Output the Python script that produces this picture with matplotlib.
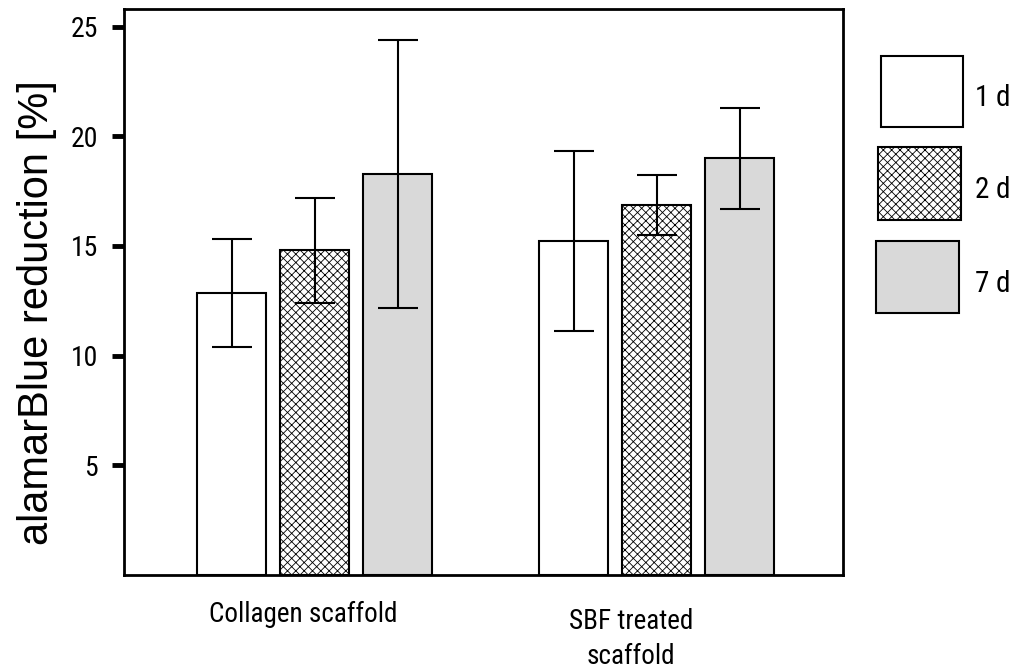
#!/usr/bin/env python3
"""
alamarBlue reduction of collagen vs. SBF treated scaffolds after 1, 2 and 7 days.
"""

import matplotlib
matplotlib.use('Agg')
import matplotlib.pyplot as plt
import numpy as np
from matplotlib import font_manager
from matplotlib.patches import Rectangle

# Data
scaffolds = ['Collagen scaffold', 'SBF treated\nscaffold']
days = ['1 d', '2 d', '7 d']
mean_1d = [12.85, 15.22]
mean_2d = [14.80, 16.86]
mean_7d = [18.27, 19.00]
sd_1d = [2.45, 4.10]
sd_2d = [2.40, 1.37]
sd_7d = [6.10, 2.30]
y_ticks = [5, 10, 15, 20, 25]

plt.rcParams['font.family'] = ['Liberation Sans', 'DejaVu Sans']
plt.rcParams['hatch.linewidth'] = 0.6
plt.rcParams['hatch.color'] = '#333333'

# the original uses a narrow Helvetica; use a narrow face if one is around
installed = {f.name for f in font_manager.fontManager.ttflist}
NARROW = None
for name in ['Liberation Sans Narrow', 'Roboto Condensed', 'Open Sans Condensed']:
    if name in installed:
        NARROW = name
        break

if NARROW:
    text_font = [NARROW, 'DejaVu Sans']
    tick_size, label_size, legend_size, spacing = 20, 19.5, 21, 1.4
else:
    text_font = ['Liberation Sans', 'DejaVu Sans']
    tick_size, label_size, legend_size, spacing = 18, 17.5, 19, 1.7


def draw_legend(fig, styles):
    """Big boxes with labels to the right of the axes (pixel positions)."""
    W, H = 1013.0, 672.0
    boxes = [(881, 56, 82, 71), (878, 147, 83, 73), (876, 241, 83, 72)]
    for (x0, y0, w, h), st, lab in zip(boxes, styles, days):
        fig.add_artist(Rectangle((x0 / W, 1 - (y0 + h) / H), w / W, h / H,
                                 transform=fig.transFigure,
                                 facecolor=st['facecolor'], hatch=st['hatch'],
                                 edgecolor='black', linewidth=1.5))
        fig.text(975 / W, 1 - (y0 + h / 2 + 7) / H, lab, ha='left',
                 va='center', fontsize=legend_size, family=text_font)


def main():
    fig = plt.figure(figsize=(10.13, 6.72), dpi=100)
    ax = fig.add_axes([0.1224, 0.1443, 0.7098, 0.8423])

    means = [mean_1d, mean_2d, mean_7d]
    sds = [sd_1d, sd_2d, sd_7d]
    styles = [
        dict(facecolor='white', hatch=None),
        dict(facecolor='white', hatch='xxxx'),
        dict(facecolor='#d9d9d9', hatch=None),
    ]

    x = np.arange(len(scaffolds))
    width = 0.202
    offset = 0.2427

    for i, (m, s, st) in enumerate(zip(means, sds, styles)):
        pos = x + (i - 1) * offset
        ax.bar(pos, m, width, color=st['facecolor'], hatch=st['hatch'],
               edgecolor='black', linewidth=1.5, zorder=2)
        ax.errorbar(pos, m, yerr=s, fmt='none', ecolor='black',
                    elinewidth=1.5, capsize=14.4, capthick=1.5, zorder=3)

    ax.set_xlim(-0.557, 1.545)
    ax.set_ylim(0, 25.8)
    ax.set_yticks(y_ticks)
    ax.set_yticklabels([str(t) for t in y_ticks], fontsize=tick_size,
                       family=text_font)
    ax.tick_params(axis='y', direction='out', length=8.6, width=3.5, pad=10)
    ax.set_xticks([])

    for sp in ax.spines.values():
        sp.set_linewidth(2)

    ax.set_ylabel('alamarBlue reduction [%]', fontsize=30)
    ax.yaxis.set_label_coords(-0.093, 0.463)

    # group labels under the axis
    ax.text(-0.032, -0.045, scaffolds[0], transform=ax.get_xaxis_transform(),
            ha='center', va='top', fontsize=label_size, family=text_font)
    ax.text(0.925, -0.058, scaffolds[1], transform=ax.get_xaxis_transform(),
            ha='center', va='top', fontsize=label_size, family=text_font,
            linespacing=spacing)

    draw_legend(fig, styles)

    fig.savefig('out.png', dpi=100)
    plt.close(fig)


if __name__ == '__main__':
    main()
